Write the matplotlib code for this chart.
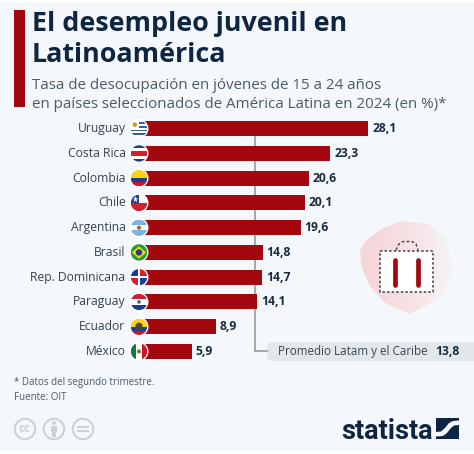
# desempleo juvenil en Latinoamerica, barras horizontales con banderas
import numpy as np
import matplotlib
matplotlib.use("Agg")
import matplotlib.pyplot as plt
from matplotlib.colors import LinearSegmentedColormap
from matplotlib.patches import Circle, Rectangle, Polygon, FancyBboxPatch

countries = ["Uruguay", "Costa Rica", "Colombia", "Chile", "Argentina", "Brasil",
             "Rep. Dominicana", "Paraguay", "Ecuador", "México"]
values = [28.1, 23.3, 20.6, 20.1, 19.6, 14.8, 14.7, 14.1, 8.9, 5.9]
average = 13.8
average_label = "Promedio Latam y el Caribe"
title_lines = ["El desempleo juvenil en", "Latinoamérica"]
subtitle_lines = ["Tasa de desocupación en jóvenes de 15 a 24 años",
                  "en países seleccionados de América Latina en 2024 (en %)*"]
notes = ["* Datos del segundo trimestre.", "Fuente: OIT"]

RED = "#a3080f"
NAVY = "#0f2642"
GREY_TXT = "#4c5a68"
BG = "#f4f7fb"
plt.rcParams["font.family"] = ["Open Sans", "DejaVu Sans"]


def fmt(v):
    return f"{v:.1f}".replace(".", ",")


fig = plt.figure(figsize=(4.74, 4.54), dpi=100, facecolor="white")

# capa de fondo y decoracion, en pixeles
bg = fig.add_axes([0, 0, 1, 1], zorder=0)
bg.set_xlim(0, 474)
bg.set_ylim(454, 0)
bg.axis("off")
bg.add_patch(Rectangle((0, 3), 474, 448, fc=BG, ec="none"))
bg.add_patch(Rectangle((14, 10), 11, 97, fc=RED, ec="none"))

for i, line in enumerate(title_lines):
    bg.text(32, 31 + i * 30.5, line, fontsize=19.4, fontweight="bold", color=NAVY,
            va="baseline", ha="left")
for i, line in enumerate(subtitle_lines):
    bg.text(32, 88.7 + i * 19, line, fontsize=10.9, color=GREY_TXT, va="baseline", ha="left")

# barras
X0, UNIT = 145, 7.95
Y_TOP, ROW = 128.7, 24.75
ax = fig.add_axes([X0 / 474, (454 - (Y_TOP + 9.5 * ROW)) / 454, (474 - X0) / 474, 10 * ROW / 454],
                  zorder=2)
ax.patch.set_alpha(0)
ax.set_xlim(0, (474 - X0) / UNIT)
y = np.arange(len(countries))
ax.set_ylim(9.5, -0.5)
ax.axis("off")
ax.plot([average, average], [0, 9], color="#8d9399", lw=1.1, zorder=1)
ax.barh(y, values, height=15 / ROW, color=RED, zorder=2)
for i, (name, v) in enumerate(zip(countries, values)):
    ax.annotate(name, (0, i), xytext=(-14, 0), textcoords="offset points", ha="right",
                va="center", fontsize=8.7, color="#36424e")
    ax.annotate(fmt(v), (v, i), xytext=(2.8, 0), textcoords="offset points", ha="left",
                va="center", fontsize=8.7, fontweight="bold", color="#1a2b40")

# etiqueta del promedio
ax.plot([average, average + 1.55], [9, 9], color="#8d9399", lw=1.1, zorder=1)
bg.add_patch(Rectangle((280, 342), 194, 19, fc="#e3e6ea", ec="none"))
bg.add_patch(FancyBboxPatch((267, 342), 30, 19, boxstyle="round,pad=0,rounding_size=6",
                            fc="#e3e6ea", ec="none"))
bg.text(278, 351.5, average_label, fontsize=8.4, color="#3c4753", va="center", ha="left")
bg.text(435, 351.5, fmt(average), fontsize=8.7, fontweight="bold", color="#1a2b40", va="center", ha="left")

# icono de la maleta: mancha rosa que se desvanece hacia la derecha
blob = Polygon([(360, 250), (366, 240), (383, 228), (402, 221), (428, 224), (445, 238), (453, 262),
                (451, 280), (440, 296), (422, 308), (410, 314), (385, 303), (369, 285), (361, 265)],
               closed=True, fc="none", ec="none")
bg.add_patch(blob)
fade = LinearSegmentedColormap.from_list("fade", ["#f5d6d9", "#f7e4e7", BG])
im = bg.imshow(np.linspace(0, 1, 64).reshape(1, -1) ** 1.4, cmap=fade, vmin=0, vmax=1,
               extent=(358, 456, 316, 219), aspect="auto", zorder=1)
im.set_clip_path(blob)
bg.set_xlim(0, 474)
bg.set_ylim(454, 0)
bg.add_patch(Rectangle((380, 251), 53, 41, fc="white", ec="#39414a", lw=1.1, ls=(0, (1.6, 1.4)), zorder=2))
bg.plot([396, 399, 403, 412, 416, 418], [250, 244, 241.5, 241.5, 244, 250], color="#39414a",
        lw=1.0, ls=(0, (2, 1.6)), zorder=2)
for bx in (395, 418):
    bg.plot([bx, bx], [260, 285], color=RED, lw=3.4, solid_capstyle="round", zorder=3)

# pie
bg.text(14.5, 382, notes[0], fontsize=7.0, color=GREY_TXT, va="center", ha="left")
bg.text(14.5, 397.5, notes[1], fontsize=7.0, color=GREY_TXT, va="center", ha="left")
CC = "#cdd1d5"
for cx in (25, 54, 83):
    bg.add_patch(Circle((cx, 429), 10.2, fc="none", ec=CC, lw=1.5))
bg.text(25, 428.5, "cc", fontsize=8.5, fontweight="bold", color=CC, ha="center", va="center")
bg.add_patch(Circle((54, 423), 2, fc=CC, ec="none"))
bg.add_patch(Rectangle((50.8, 426), 6.4, 5.5, fc=CC, ec="none"))
bg.add_patch(Rectangle((52.3, 431), 3.4, 6, fc=CC, ec="none"))
for dy in (-2, 2):
    bg.plot([78, 88], [429 + dy, 429 + dy], color=CC, lw=1.5)

# logo
bg.text(341, 439, "statista", fontsize=19.5, fontweight="bold", color=NAVY, family="Roboto",
        va="baseline", ha="left")
bg.add_patch(Rectangle((436, 418), 23, 21, fc=NAVY, ec="none"))
wave = [(436, 432), (441, 431.5), (445, 428), (449, 423), (453, 421), (459, 420.5),
        (459, 425), (454, 425.5), (451, 428), (447, 433), (443, 436), (436, 436.5)]
bg.add_patch(Polygon(wave, closed=True, fc=BG, ec="none"))


# banderas circulares
def stripes(fa, cx, cy, r, colors, weights=None, clip=None):
    weights = weights or [1] * len(colors)
    tops = np.cumsum([0] + weights) / sum(weights) * 2 * r + cy - r
    for c, a, b in zip(colors, tops[:-1], tops[1:]):
        p = Rectangle((cx - r, a), 2 * r, b - a, fc=c, ec="none", zorder=5)
        fa.add_patch(p)
        p.set_clip_path(clip)


def draw_flag(fa, name, cx, cy, r=8.2):
    ring = Circle((cx, cy), r + 1.3, fc="white", ec="none", zorder=4)
    fa.add_patch(ring)
    clip = Circle((cx, cy), r, transform=fa.transData)

    def add(p):
        p.set_zorder(6)
        fa.add_patch(p)
        p.set_clip_path(clip)

    if name == "Uruguay":
        stripes(fa, cx, cy, r, ["white", "#2f5fa8"] * 4 + ["white"], clip=clip)
        add(Rectangle((cx - r, cy - r), r, r, fc="white", ec="none"))
        add(Circle((cx - r / 2, cy - r / 2), 2.2, fc="#c9962e", ec="none"))
    elif name == "Costa Rica":
        stripes(fa, cx, cy, r, ["#1c3f8f", "white", "#d3202f", "white", "#1c3f8f"], [1, 1, 2, 1, 1], clip)
    elif name == "Colombia":
        stripes(fa, cx, cy, r, ["#fcd116", "#1c3f8f", "#ce1126"], [2, 1, 1], clip)
    elif name == "Chile":
        stripes(fa, cx, cy, r, ["white", "#d3202f"], clip=clip)
        add(Rectangle((cx - r, cy - r), r, r, fc="#1c3f8f", ec="none"))
        fa.plot(cx - r / 2, cy - r / 2, marker="*", ms=5, mfc="white", mec="none", zorder=7)
    elif name == "Argentina":
        stripes(fa, cx, cy, r, ["#79b4e3", "white", "#79b4e3"], clip=clip)
        add(Circle((cx, cy), 2.1, fc="#b5651d", ec="none"))
    elif name == "Brasil":
        stripes(fa, cx, cy, r, ["#1f9a3c"], clip=clip)
        add(Polygon([(cx - r + 1, cy), (cx, cy - r + 2), (cx + r - 1, cy), (cx, cy + r - 2)],
                    fc="#f5d90a", ec="none"))
        fa.add_patch(Circle((cx, cy), 3.2, fc="#1c3f8f", ec="none", zorder=7))
    elif name == "Rep. Dominicana":
        stripes(fa, cx, cy, r, ["white"], clip=clip)
        for sx, sy, c in [(-1, -1, "#1c3f8f"), (1, -1, "#d3202f"), (-1, 1, "#d3202f"), (1, 1, "#1c3f8f")]:
            x0 = cx + 1.2 if sx > 0 else cx - r
            y0 = cy + 1.2 if sy > 0 else cy - r
            add(Rectangle((x0, y0), r - 1.2, r - 1.2, fc=c, ec="none"))
    elif name == "Paraguay":
        stripes(fa, cx, cy, r, ["#d3202f", "white", "#1c3f8f"], clip=clip)
        add(Circle((cx, cy), 1.8, fc="#55606b", ec="none"))
    elif name == "Ecuador":
        stripes(fa, cx, cy, r, ["#fcd116", "#1c3f8f", "#ce1126"], [2, 1, 1], clip)
        add(Circle((cx, cy - 0.5), 3.6, fc="#4b4a2e", ec="none"))
    elif name == "México":
        for k, c in enumerate(["#0f7a45", "white", "#ce1126"]):
            add(Rectangle((cx - r + k * 2 * r / 3, cy - r), 2 * r / 3, 2 * r, fc=c, ec="none"))
        add(Circle((cx, cy), 2, fc="#7d6a3a", ec="none"))


flags = fig.add_axes([0, 0, 1, 1], zorder=3)
flags.patch.set_alpha(0)
flags.set_xlim(0, 474)
flags.set_ylim(454, 0)
flags.axis("off")
for i, name in enumerate(countries):
    draw_flag(flags, name, 139, Y_TOP + i * ROW)

fig.savefig("out.png", dpi=100)
